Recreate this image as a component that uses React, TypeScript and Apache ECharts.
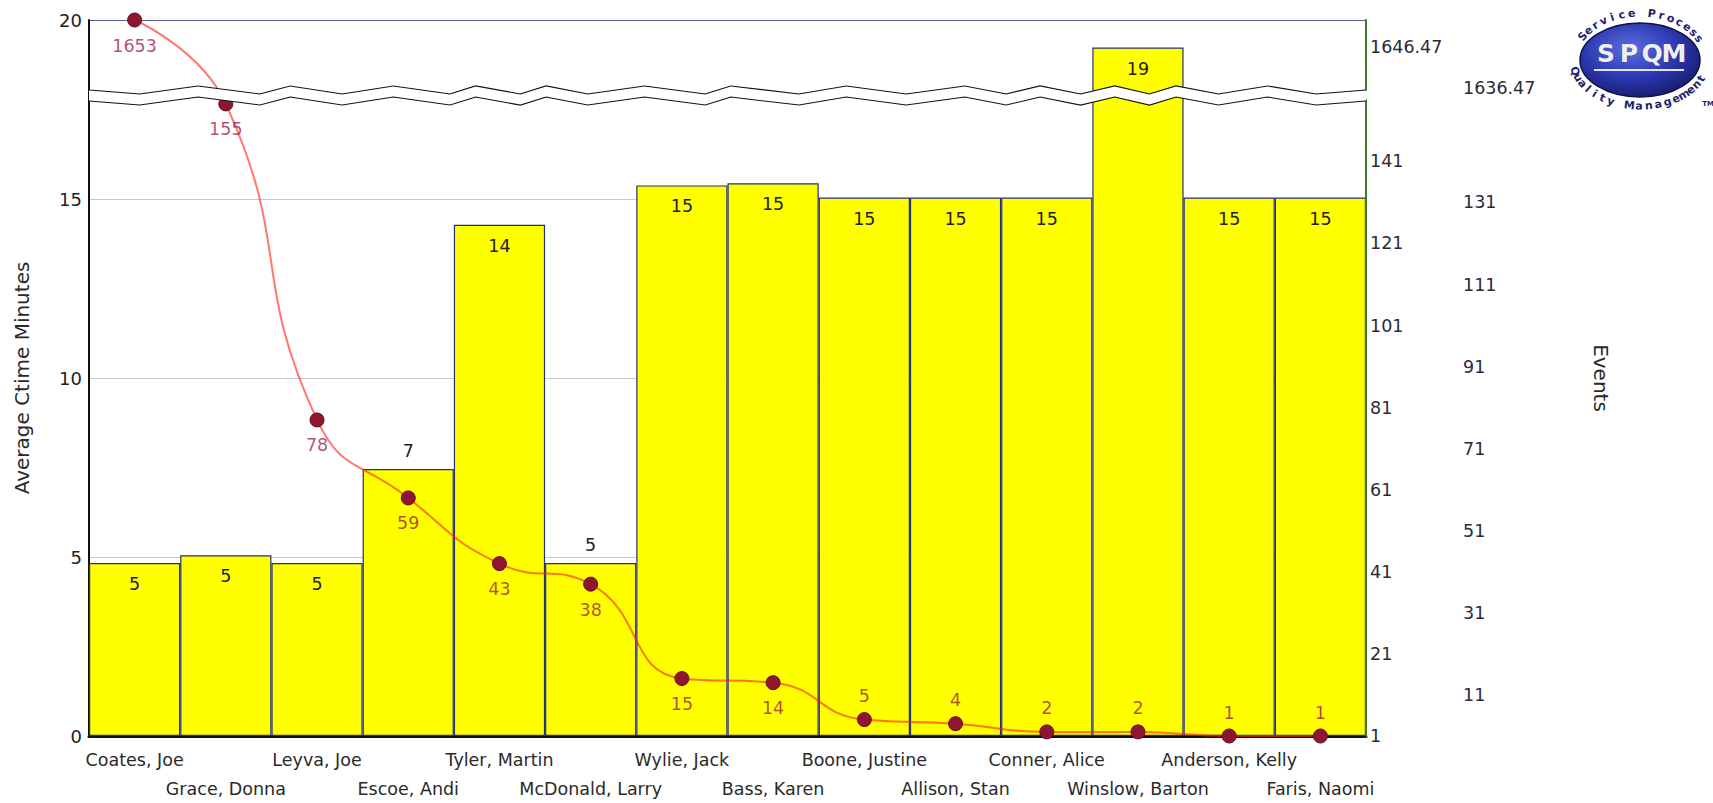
import { useEffect, useRef } from 'react';
import * as echarts from 'echarts';

// Agents, in the order they are ranked by number of events
const agents = [
  'Coates, Joe', 'Grace, Donna', 'Leyva, Joe', 'Escoe, Andi', 'Tyler, Martin',
  'McDonald, Larry', 'Wylie, Jack', 'Bass, Karen', 'Boone, Justine', 'Allison, Stan',
  'Conner, Alice', 'Winslow, Barton', 'Anderson, Kelly', 'Faris, Naomi',
];

// Average call time per agent, minutes (left axis, bars)
const avgCtimeMinutes = [4.83, 5.05, 4.83, 7.46, 14.28, 4.83, 15.38, 15.44, 15.04, 15.04, 15.04, 19.23, 15.04, 15.04];

// Number of events per agent (right axis, line)
const events = [1653, 155, 78, 59, 43, 38, 15, 14, 5, 4, 2, 2, 1, 1];

// Left axis ticks
const minuteTicks = [0, 5, 10, 15, 20];

// Right axis tick labels (the axis is broken between the two groups)
const eventTicks = [1, 11, 21, 31, 41, 51, 61, 71, 81, 91, 101, 111, 121, 131, 141, 1636.47, 1646.47];
const eventBreakStart = 156;
const eventBreakEnd = 1636;

// Bars whose value label sits above the bar instead of inside it
const barLabelsOutside = [3, 5];
// Points from this index on carry their label above the marker
const firstEventLabelAbove = 8;

const FONT = 'DejaVu Sans';

function arcLetters(
  text: string, cx: number, cy: number, rx: number, ry: number,
  fromDeg: number, toDeg: number, upper: boolean,
) {
  const n = text.length;
  return text.split('').map((ch, i) => {
    const t = n === 1 ? 0.5 : i / (n - 1);
    const th = ((fromDeg + (toDeg - fromDeg) * t) * Math.PI) / 180;
    const x = cx + rx * Math.cos(th);
    const y = cy + ry * Math.sin(th);
    const phi = upper
      ? Math.atan2(ry * Math.cos(th), -rx * Math.sin(th))
      : Math.atan2(-ry * Math.cos(th), rx * Math.sin(th));
    return {
      type: 'text',
      x,
      y,
      rotation: -phi,
      style: {
        text: ch,
        fill: '#1c1f6e',
        fontSize: 11,
        fontWeight: 'bold',
        fontFamily: FONT,
        align: 'center',
        verticalAlign: 'middle',
        textAlign: 'center',
        textVerticalAlign: 'middle',
      },
    };
  });
}

export default function App() {
  const ref = useRef<HTMLDivElement>(null);

  useEffect(() => {
    document.body.style.margin = '0';
    if (!ref.current) return;
    const chart = echarts.init(ref.current, undefined, { renderer: 'svg' });

    const logoCx = 1640;
    const logoCy = 60;
    const spqmX = [1606, 1629, 1652, 1674];

    const option: any = {
      animation: false,
      backgroundColor: '#ffffff',
      textStyle: { fontFamily: FONT },
      grid: { left: 89, right: 347, top: 20, bottom: 66, containLabel: false },
      xAxis: {
        type: 'category',
        data: agents,
        axisLine: { show: true, lineStyle: { color: '#111', width: 3 } },
        axisTick: { show: false },
        axisLabel: {
          interval: 0,
          margin: 9,
          fontSize: 17.5,
          lineHeight: 29,
          color: '#2a2a2a',
          formatter: (v: string, i: number) => (i % 2 ? '\n' + v : v),
        },
      },
      yAxis: [
        {
          type: 'value',
          min: minuteTicks[0],
          max: minuteTicks[minuteTicks.length - 1],
          interval: 5,
          name: 'Average Ctime Minutes',
          nameLocation: 'middle',
          nameRotate: 90,
          nameGap: 57,
          nameTextStyle: { fontSize: 20, color: '#2a2a2a' },
          axisLine: { show: true, lineStyle: { color: '#111', width: 2 } },
          axisTick: { show: false },
          axisLabel: { fontSize: 18, margin: 7, color: '#222' },
          splitLine: {
            show: true,
            lineStyle: { color: ['#c8c8c8', '#c8c8c8', '#c8c8c8', '#c8c8c8', '#55628f'], width: 1 },
          },
        },
        {
          type: 'value',
          position: 'right',
          z: 10,
          min: 1,
          max: events[0],
          breaks: [{ start: eventBreakStart, end: eventBreakEnd, gap: '1.4%' }],
          breakArea: {
            show: true,
            expandOnClick: false,
            zigzagAmplitude: 4,
            zigzagMinSpan: 25,
            zigzagMaxSpan: 70,
            zigzagZ: 100,
            itemStyle: {
              color: '#ffffff',
              borderColor: '#111111',
              borderWidth: 2.2,
              borderType: 'solid',
              opacity: 1,
            },
          },
          name: 'Events',
          nameLocation: 'middle',
          nameRotate: -90,
          nameGap: 225,
          nameTextStyle: { fontSize: 20, color: '#2a2a2a' },
          axisLine: { show: true, lineStyle: { color: '#3c7d28', width: 2 } },
          axisTick: { show: false },
          splitLine: { show: false },
          axisLabel: {
            customValues: eventTicks,
            margin: 4,
            fontSize: 17.5,
            color: '#2a2a3a',
            formatter: (v: number) => {
              const k = eventTicks.indexOf(v);
              const idx = k >= 0 ? k : 0;
              const inner = idx % 2 === 0;
              const txt = String(v);
              return inner ? '{i|' + txt + '}' : '{o|' + txt + '}';
            },
            rich: {
              i: { fontSize: 17.5, color: '#2a2a3a', fontFamily: FONT },
              o: { fontSize: 17.5, color: '#2a2a3a', fontFamily: FONT, padding: [0, 0, 0, 93] },
            },
          },
        },
      ],
      series: [
        {
          type: 'bar',
          yAxisIndex: 0,
          barCategoryGap: '0%',
          itemStyle: { color: '#ffff00', borderColor: '#27307a', borderWidth: 1.2 },
          label: {
            show: true,
            fontSize: 17.5,
            color: '#222',
            formatter: (p: any) => String(Math.round(p.value)),
          },
          data: avgCtimeMinutes.map((v, i) => {
            const outside = barLabelsOutside.includes(i);
            return {
              value: v,
              label: { position: outside ? 'top' : 'insideTop', distance: outside ? 9 : 12 },
            };
          }),
          z: 2,
        },
        {
          type: 'line',
          yAxisIndex: 1,
          smooth: 0.5,
          symbol: 'circle',
          symbolSize: 14,
          itemStyle: { color: '#8e1630', borderColor: '#6a0d22', borderWidth: 1 },
          lineStyle: { color: 'rgba(255,30,20,0.6)', width: 2 },
          label: {
            show: true,
            fontSize: 17.5,
            color: 'rgba(150,10,60,0.72)',
          },
          data: events.map((v, i) => ({
            value: v,
            label: i >= firstEventLabelAbove
              ? { position: 'top', distance: 7 }
              : { position: 'bottom', distance: 9 },
          })),
          z: 5,
        },
      ],
      graphic: [
        {
          type: 'group',
          children: [
            {
              type: 'ellipse',
              shape: { cx: logoCx, cy: logoCy, rx: 60, ry: 37 },
              style: {
                fill: {
                  type: 'radial', x: 0.42, y: 0.35, r: 0.75,
                  colorStops: [
                    { offset: 0, color: '#5b6ee6' },
                    { offset: 0.55, color: '#2a35ab' },
                    { offset: 1, color: '#121760' },
                  ],
                },
                stroke: '#0e1240',
                lineWidth: 1.5,
              },
            },
            ...spqmX.map((x, i) => ({
              type: 'text',
              x,
              y: 53,
              style: {
                text: 'SPQM'[i],
                fill: '#eeeef4',
                stroke: '#3a3a55',
                lineWidth: 0.6,
                fontSize: 25,
                fontWeight: 'bold',
                fontFamily: FONT,
                align: 'center',
                verticalAlign: 'middle',
                textAlign: 'center',
                textVerticalAlign: 'middle',
              },
            })),
            {
              type: 'line',
              shape: { x1: 1594, y1: 70, x2: 1684, y2: 70 },
              style: { stroke: '#e4e4ee', lineWidth: 2 },
            },
            ...arcLetters('Service Process', logoCx, logoCy, 66, 47, 210, 333, true),
            ...arcLetters('Quality Management', logoCx, logoCy, 67, 46, 166, 24, false),
            {
              type: 'text',
              x: 1708,
              y: 104,
              style: {
                text: 'TM', fill: '#1c1f6e', fontSize: 7, fontWeight: 'bold', fontFamily: FONT,
                align: 'center', verticalAlign: 'middle', textAlign: 'center', textVerticalAlign: 'middle',
              },
            },
          ],
        },
      ],
    };

    chart.setOption(option);
    return () => chart.dispose();
  }, []);

  return <div ref={ref} style={{ width: 1713, height: 803 }} />;
}
